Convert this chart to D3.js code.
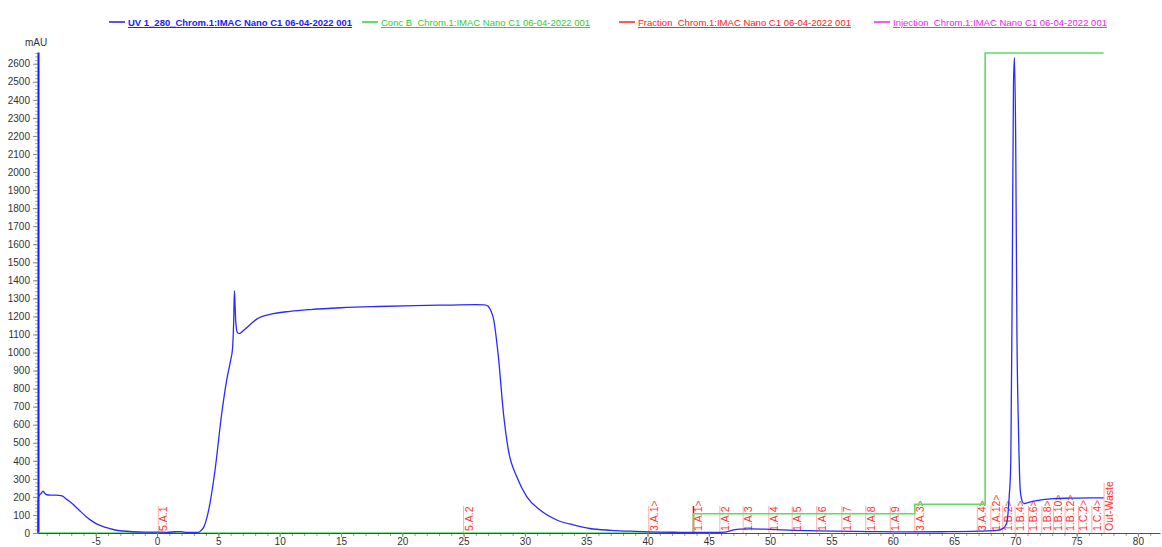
<!DOCTYPE html>
<html>
<head>
<meta charset="utf-8">
<script src="https://cdn.jsdelivr.net/npm/d3@7"></script>
<style>
  body { margin: 0; background: #fff; }
  svg { font-family: "Liberation Sans", Arial, sans-serif; }
</style>
</head>
<body>
<div id="chart"></div>
<script>
var svgWidth = 1162;
var svgHeight = 547;

// UV 280 trace (min, mAU)
var uvTime = [-9.72, -9.69, -9.6, -9.45, -9.3, -9.15, -9.0, -8.6, -8.0, -7.7, -7.4, -7.0, -6.6, -6.2, -5.8, -5.3, -4.8, -4.2, -3.5, -2.8, -2.0, -1.0, 0, 0.8, 1.5, 1.9, 2.3, 2.8, 3.37, 3.6, 3.8, 4.05, 4.32, 4.73, 5.28, 5.68, 6.0, 6.15, 6.25, 6.31, 6.36, 6.42, 6.55, 6.7, 7.04, 7.6, 8.13, 9.49, 10.85, 12.5, 15, 18, 21, 24, 26, 26.7, 27.0, 27.2, 27.43, 27.84, 28.25, 28.65, 29.34, 30.15, 31.24, 32.6, 33.96, 35.3, 37, 39, 41, 42.5, 44, 45.5, 46.3, 46.9, 47.5, 48.5, 50, 52, 55, 58, 61, 64, 67, 68.5, 69.03, 69.3, 69.5, 69.63, 69.75, 69.85, 69.93, 70.03, 70.13, 70.26, 70.4, 70.55, 70.7, 71.0, 71.75, 73.1, 74.47, 76, 77.2];
var uvValue = [0, 193, 209, 219, 232, 219, 212, 210, 209, 204, 188, 168, 143, 117, 92, 66, 46, 31, 18, 11, 7, 5, 5, 4, 7, 8, 4, 3, 3, 15, 31, 81, 166, 349, 665, 847, 957, 1018, 1171, 1342, 1265, 1170, 1110, 1105, 1122, 1155, 1185, 1215, 1228, 1238, 1248, 1255, 1260, 1263, 1265, 1264, 1257, 1235, 1191, 976, 665, 460, 312, 202, 127, 72, 45, 25, 15, 9, 5, 4, 3, 3, 5, 15, 22, 23, 20, 15, 10, 8, 6, 7, 10, 14, 27, 55, 202, 387, 1420, 2480, 2635, 2180, 1120, 570, 238, 178, 163, 168, 179, 190, 193, 195, 195];

// Conc B (%)
var concTime = [-9.71, 43.75, 43.75, 61.8, 61.8, 67.54, 67.54, 77.2];
var concValue = [0, 0, 4, 4, 6, 6, 100, 100];

// Fractions
var fracTime = [0.1, 25.0, 40.1, 43.75, 45.9, 47.8, 49.9, 51.8, 53.8, 55.85, 57.8, 59.8, 61.8, 66.9, 68.0, 68.97, 69.98, 71.07, 72.16, 73.11, 74.06, 75.15, 76.24, 77.24];
var fracLabel = ["5.A.1", "5.A.2", "3.A.1>", "1.A.1>", "1.A.2", "1.A.3", "1.A.4", "1.A.5", "1.A.6", "1.A.7", "1.A.8", "1.A.9", "3.A.3>", "3.A.4>", "1.A.12>", "1.B.2>", "1.B.4>", "1.B.6>", "1.B.8>", "1.B.10>", "1.B.12>", "1.C.2>", "1.C.4>", "Out-Waste"];

var xTicks = [-5, 0, 5, 10, 15, 20, 25, 30, 35, 40, 45, 50, 55, 60, 65, 70, 75, 80];
var yTicks = [0, 100, 200, 300, 400, 500, 600, 700, 800, 900, 1000, 1100, 1200, 1300, 1400, 1500, 1600, 1700, 1800, 1900, 2000, 2100, 2200, 2300, 2400, 2500, 2600];

var legendNames = ["UV 1_280_Chrom.1:IMAC Nano C1 06-04-2022 001", "Conc B_Chrom.1:IMAC Nano C1 06-04-2022 001", "Fraction_Chrom.1:IMAC Nano C1 06-04-2022 001", "Injection_Chrom.1:IMAC Nano C1 06-04-2022 001"];
var legendColors = ["#1a1aff", "#33cc33", "#ff2020", "#ee22ee"];
var legendX = [109, 362, 619, 874];
var legendTextW = [224, 209, 213, 214];

var svg = d3.select("#chart")
    .append("svg")
    .attr("width", svgWidth)
    .attr("height", svgHeight);

var x = d3.scaleLinear().domain([-9.71, 81.8]).range([38, 1160]);
var y = d3.scaleLinear().domain([0, 2665]).range([533, 52]);
var yConc = d3.scaleLinear().domain([0, 100]).range([533, 53]);

// x axis minor ticks
svg.append("g")
    .attr("transform", "translate(0,533)")
    .call(d3.axisBottom(x).tickValues(d3.range(-9, 82, 1)).tickSize(3).tickFormat(""))
    .call(g => g.select(".domain").remove())
    .call(g => g.selectAll("line").attr("stroke", "#999"));

// y axis minor ticks
svg.append("g")
    .attr("transform", "translate(38,0)")
    .call(d3.axisLeft(y).tickValues(d3.range(0, 2665, 20)).tickSize(3).tickFormat(""))
    .call(g => g.select(".domain").remove())
    .call(g => g.selectAll("line").attr("stroke", "#aaa"));

var yAxis = svg.append("g")
    .attr("transform", "translate(38,0)")
    .call(d3.axisLeft(y).tickValues(yTicks).tickSize(5).tickSizeOuter(0).tickPadding(3).tickFormat(d => String(d)));
yAxis.select(".domain").attr("stroke", "#1a1aff").attr("stroke-width", 2);
yAxis.selectAll("line").attr("stroke", "#888");
yAxis.selectAll("text").attr("font-size", "10px").attr("fill", "#333")
    .attr("font-family", "Liberation Sans, Arial, sans-serif");

svg.append("text")
    .attr("x", 36)
    .attr("y", 46)
    .attr("text-anchor", "middle")
    .attr("font-size", "10px")
    .attr("fill", "#333")
    .text("mAU");

// fraction marks
var fracGroup = svg.append("g");
fracTime.forEach(function(t, i) {
    var lbl = fracLabel[i];
    var top = lbl == "Out-Waste" ? 483 : 506;
    fracGroup.append("line")
        .attr("x1", x(t)).attr("x2", x(t))
        .attr("y1", 533).attr("y2", top)
        .attr("stroke", lbl == "1.A.1>" ? "#ff0000" : "#ff9a9a")
        .attr("stroke-width", lbl == "1.A.1>" ? 1.5 : 0.8);
    fracGroup.append("text")
        .attr("transform", `translate(${x(t) + 9}, 531) rotate(-90)`)
        .attr("font-size", "10.5px")
        .attr("fill", "#ff3030")
        .text(lbl);
});

// conc B
var concLine = d3.line()
    .x((d, i) => x(concTime[i]))
    .y(d => yConc(d));
svg.append("path")
    .datum(concValue)
    .attr("d", concLine)
    .attr("fill", "none")
    .attr("stroke", "#5ddc5d")
    .attr("stroke-width", 1.6);

// x axis on top of the 0% line
var xAxis = svg.append("g")
    .attr("transform", "translate(0,533)")
    .call(d3.axisBottom(x).tickValues(xTicks).tickSize(4).tickSizeOuter(0).tickPadding(1).tickFormat(d => String(d)));
xAxis.select(".domain").attr("stroke", "#2b3a2b").attr("stroke-width", 1.2).attr("opacity", 0.85);
xAxis.selectAll("line").attr("stroke", "#888");
xAxis.selectAll("text").attr("font-size", "10px").attr("fill", "#333")
    .attr("font-family", "Liberation Sans, Arial, sans-serif");

// UV trace
var uvLine = d3.line()
    .x((d, i) => x(uvTime[i]))
    .y(d => y(d))
    .curve(d3.curveMonotoneX);
svg.append("path")
    .datum(uvValue)
    .attr("d", uvLine)
    .attr("fill", "none")
    .attr("stroke", "#2a2aff")
    .attr("stroke-width", 1.3);

// legend
var legend = svg.append("g");
legendNames.forEach(function(name, i) {
    legend.append("line")
        .attr("x1", legendX[i]).attr("x2", legendX[i] + 16)
        .attr("y1", 22).attr("y2", 22)
        .attr("stroke", legendColors[i])
        .attr("stroke-width", 1.5);
    legend.append("text")
        .attr("x", legendX[i] + 19)
        .attr("y", 26)
        .attr("font-size", "9.6px")
        .attr("font-weight", i == 0 ? "bold" : "normal")
        .attr("text-decoration", "underline")
        .attr("textLength", legendTextW[i])
        .attr("lengthAdjust", "spacingAndGlyphs")
        .attr("fill", legendColors[i])
        .text(name);
});
</script>
</body>
</html>
